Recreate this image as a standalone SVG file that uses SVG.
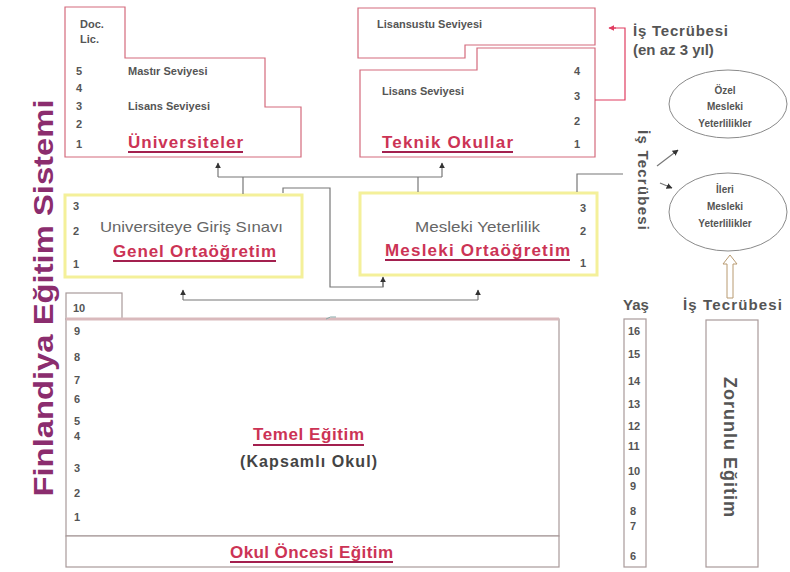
<svg xmlns="http://www.w3.org/2000/svg" width="790" height="572" viewBox="0 0 790 572">
<style>
text{font-family:"Liberation Sans",Arial,sans-serif}
.num{font-size:11px;font-weight:bold;fill:#555}
.lbl{font-size:11px;font-weight:bold;fill:#555}
.red{font-size:17px;font-weight:bold;fill:#cc3355}
.ul{stroke:#a3204f;stroke-width:2}
.big{font-size:15px;fill:#666}
.pk{fill:#fff;stroke:#d46a7c;stroke-width:1.2}
.yl{fill:#fff;stroke:#f4f09a;stroke-width:3}
.gb{fill:#fff;stroke:#a89a9a;stroke-width:1.2}
.con{fill:none;stroke:#777;stroke-width:1.2}
.el{fill:#fff;stroke:#8a8a8a;stroke-width:1}
.ell{font-size:10px;font-weight:bold;fill:#555;text-anchor:middle}
.dk{font-size:15px;font-weight:bold;fill:#555}
</style>
<defs>
<marker id="ah" viewBox="0 0 10 10" refX="9" refY="5" markerWidth="5" markerHeight="5" orient="auto"><path d="M0,0 L10,5 L0,10 z" fill="#333"/></marker>
<marker id="rh" viewBox="0 0 10 10" refX="9" refY="5" markerWidth="5" markerHeight="5" orient="auto"><path d="M0,0 L10,5 L0,10 z" fill="#e03c60"/></marker>
</defs>
<rect width="790" height="572" fill="#fff"/>

<text transform="translate(53,298) rotate(-90)" text-anchor="middle" font-size="27" font-weight="bold" fill="#8b2d6e" textLength="397" lengthAdjust="spacingAndGlyphs">Finlandiya Eğitim Sistemi</text>

<g id="universiteler">
<polygon class="pk" points="65,7 125,7 125,58 265,58 265,107 301,107 301,157 65,157"/>
<text class="lbl" x="80" y="28">Doc.</text>
<text class="lbl" x="80" y="43">Lic.</text>
<text class="num" x="76" y="75">5</text>
<text class="num" x="76" y="92">4</text>
<text class="num" x="76" y="110">3</text>
<text class="num" x="76" y="128">2</text>
<text class="num" x="76" y="148">1</text>
<text class="lbl" x="128" y="75">Mastır Seviyesi</text>
<text class="lbl" x="128" y="110">Lisans Seviyesi</text>
<text class="red" x="128" y="148" textLength="115" lengthAdjust="spacing">Üniversiteler</text>
<line class="ul" x1="128" y1="152" x2="243" y2="152"/>
</g>

<g id="teknik-okullar">
<polygon class="pk" points="358,8 595,8 595,45 465,45 465,58 358,58"/>
<polygon class="pk" points="360,70 477,70 477,48 595,48 595,157 360,157"/>
<text class="lbl" x="377" y="28">Lisansustu Seviyesi</text>
<text class="lbl" x="382" y="95">Lisans Seviyesi</text>
<text class="num" x="574" y="75">4</text>
<text class="num" x="574" y="100">3</text>
<text class="num" x="574" y="125">2</text>
<text class="num" x="574" y="148">1</text>
<text class="red" x="382" y="148" textLength="131" lengthAdjust="spacing">Teknik Okullar</text>
<line class="ul" x1="382" y1="152" x2="513" y2="152"/>
</g>

<g id="is-tecrubesi-top">
<text class="dk" x="633" y="36" textLength="95" lengthAdjust="spacing">İş Tecrübesi</text>
<text class="dk" x="633" y="55">(en az 3 yıl)</text>
</g>

<g id="ozel-mesleki">
<ellipse class="el" cx="728" cy="104" rx="59" ry="34"/>
<text class="ell" x="725" y="94">Özel</text>
<text class="ell" x="725" y="110">Mesleki</text>
<text class="ell" x="725" y="127">Yeterlilikler</text>
</g>

<g id="ileri-mesleki">
<ellipse class="el" cx="728" cy="212" rx="59" ry="39"/>
<text class="ell" x="725" y="193">İleri</text>
<text class="ell" x="725" y="210">Mesleki</text>
<text class="ell" x="725" y="227">Yeterlilikler</text>
</g>

<g id="is-tecrubesi-vertical">
<text class="dk" transform="translate(638,180) rotate(90)" text-anchor="middle" textLength="100" lengthAdjust="spacing">İş Tecrübesi</text>
</g>

<g id="genel-ortaogretim">
<rect class="yl" x="65" y="195" width="237" height="82"/>
<text class="num" x="73" y="210">3</text>
<text class="num" x="73" y="235">2</text>
<text class="num" x="73" y="268">1</text>
<text class="big" x="100" y="232" textLength="183" lengthAdjust="spacingAndGlyphs">Universiteye Giriş Sınavı</text>
<text class="red" x="113" y="257" textLength="163" lengthAdjust="spacing">Genel Ortaöğretim</text>
<line class="ul" x1="113" y1="261" x2="276" y2="261"/>
</g>

<g id="mesleki-ortaogretim">
<rect class="yl" x="360" y="193" width="237" height="82"/>
<text class="num" x="580" y="212">3</text>
<text class="num" x="580" y="235">2</text>
<text class="num" x="580" y="267">1</text>
<text class="big" x="415" y="232" textLength="125" lengthAdjust="spacingAndGlyphs">Mesleki Yeterlilik</text>
<text class="red" x="385" y="256" textLength="185" lengthAdjust="spacing">Mesleki Ortaöğretim</text>
<line class="ul" x1="385" y1="260" x2="570" y2="260"/>
</g>

<g id="temel-egitim">
<rect class="gb" x="66" y="293" width="56" height="26"/>
<rect class="gb" x="66" y="319" width="493" height="217"/>
<line x1="66" y1="319" x2="559" y2="319" stroke="#d9b9bc" stroke-width="3"/>
<text class="num" x="73" y="312">10</text>
<text class="num" x="74" y="335">9</text>
<text class="num" x="74" y="361">8</text>
<text class="num" x="74" y="384">7</text>
<text class="num" x="74" y="403">6</text>
<text class="num" x="74" y="425">5</text>
<text class="num" x="74" y="440">4</text>
<text class="num" x="74" y="472">3</text>
<text class="num" x="74" y="497">2</text>
<text class="num" x="74" y="521">1</text>
<text class="red" x="253" y="440" textLength="111" lengthAdjust="spacing">Temel Eğitim</text>
<line class="ul" x1="253" y1="445" x2="364" y2="445"/>
<text x="240" y="467" font-size="16" font-weight="bold" fill="#444" textLength="137" lengthAdjust="spacing">(Kapsamlı Okul)</text>
</g>

<g id="okul-oncesi">
<rect class="gb" x="66" y="536" width="493" height="31"/>
<text class="red" x="230" y="558" textLength="163" lengthAdjust="spacing">Okul Öncesi Eğitim</text>
<line class="ul" x1="230" y1="562" x2="393" y2="562"/>
</g>

<g id="yas">
<text class="dk" x="623" y="310">Yaş</text>
<rect class="gb" x="624" y="319" width="22" height="248"/>
<text class="num" x="628" y="335">16</text>
<text class="num" x="628" y="358">15</text>
<text class="num" x="628" y="385">14</text>
<text class="num" x="628" y="408">13</text>
<text class="num" x="628" y="430">12</text>
<text class="num" x="628" y="450">11</text>
<text class="num" x="628" y="475">10</text>
<text class="num" x="630" y="490">9</text>
<text class="num" x="630" y="515">8</text>
<text class="num" x="630" y="530">7</text>
<text class="num" x="630" y="560">6</text>
</g>

<g id="zorunlu-egitim">
<text class="dk" x="683" y="310" textLength="99" lengthAdjust="spacing">İş Tecrübesi</text>
<rect class="gb" x="706" y="320" width="52" height="247"/>
<text transform="translate(724,447) rotate(90)" text-anchor="middle" font-size="18" font-weight="bold" fill="#555" textLength="140" lengthAdjust="spacing">Zorunlu Eğitim</text>
</g>

<g id="connectors">
<polyline class="con" points="218,177 442,177"/>
<line class="con" x1="218" y1="177" x2="218" y2="163" marker-end="url(#ah)"/>
<line class="con" x1="442" y1="177" x2="442" y2="163" marker-end="url(#ah)"/>
<line class="con" x1="243" y1="177" x2="243" y2="194"/>
<line class="con" x1="418" y1="177" x2="418" y2="192"/>
<polyline class="con" points="283,193 283,188 330,188 330,287 383,287 383,279"/>
<line class="con" x1="383" y1="287" x2="383" y2="277" marker-end="url(#ah)"/>
<polyline class="con" points="183,300 478,300"/>
<line class="con" x1="183" y1="300" x2="183" y2="290" marker-end="url(#ah)"/>
<line class="con" x1="478" y1="300" x2="478" y2="290" marker-end="url(#ah)"/>
<path d="M326,319 q4,-3 10,-2" fill="none" stroke="#8aa" stroke-width="1"/>
<polyline class="con" points="577,192 577,174 623,174"/>
<line class="con" x1="657" y1="166" x2="678" y2="150" marker-end="url(#ah)"/>
<line class="con" x1="660" y1="183" x2="672" y2="188" marker-end="url(#ah)"/>
<polyline fill="none" stroke="#e03c60" stroke-width="1.2" points="595,100 625,100 625,28 614,28"/>
<line x1="616" y1="28" x2="609" y2="28" stroke="#e03c60" stroke-width="1.2" marker-end="url(#rh)"/>
<polygon points="730,255 737,264 733,264 733,298 727,298 727,264 723,264" fill="#fff" stroke="#b89a70" stroke-width="1"/>
</g>
</svg>
